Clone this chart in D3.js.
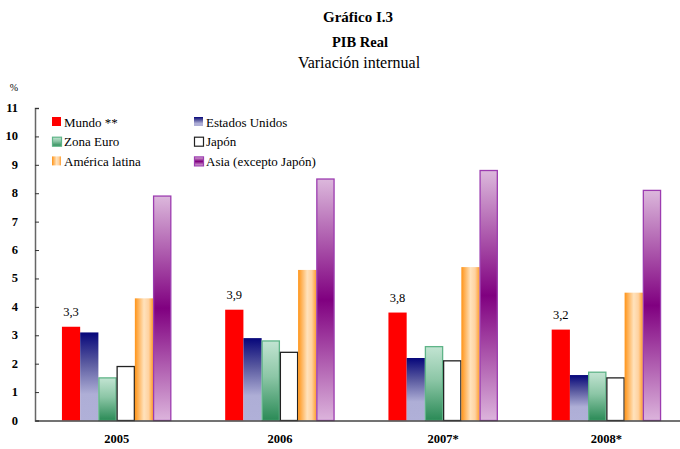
<!DOCTYPE html>
<html>
<head>
<meta charset="utf-8">
<script src="https://cdn.jsdelivr.net/npm/d3@7"></script>
<style>
    body { margin: 0; background: #fff; }
    svg { display: block; font-family: "Liberation Serif", "DejaVu Serif", serif; }
</style>
</head>
<body>
<svg id="chart" width="680" height="449"></svg>
<script>
const years = ['2005', '2006', '2007*', '2008*'];
const seriesNames = ['Mundo **', 'Estados Unidos', 'Zona Euro', 'Japón', 'América latina', 'Asia (excepto Japón)'];
const mundo = [3.3, 3.9, 3.8, 3.2];
const estadosUnidos = [3.1, 2.9, 2.2, 1.6];
const zonaEuro = [1.5, 2.8, 2.6, 1.7];
const japon = [1.9, 2.4, 2.1, 1.5];
const americaLatina = [4.3, 5.3, 5.4, 4.5];
const asia = [7.9, 8.5, 8.8, 8.1];
const mundoLabels = ['3,3', '3,9', '3,8', '3,2'];
const yTicks = d3.range(0, 12);

const seriesValues = [mundo, estadosUnidos, zonaEuro, japon, americaLatina, asia];

const svg = d3.select('#chart');
const defs = svg.append('defs');

// gradients
function linearGrad(id, horizontal, stops) {
    const g = defs.append('linearGradient')
        .attr('id', id)
        .attr('x1', 0).attr('y1', 0)
        .attr('x2', horizontal ? 1 : 0).attr('y2', horizontal ? 0 : 1);
    stops.forEach(s => g.append('stop').attr('offset', s[0]).attr('stop-color', s[1]));
}
linearGrad('gUS', false, [[0, '#06067a'], [0.35, '#5a5aa0'], [0.7, '#aeaed6'], [1, '#b0b0d8']]);
linearGrad('gEU', false, [[0, '#c2e4d2'], [0.45, '#8cc6a6'], [1, '#2a8a56']]);
linearGrad('gAL', true, [[0, '#ff9418'], [0.5, '#ffe2bc'], [0.75, '#ffd2a0'], [1, '#ff9e30']]);
linearGrad('gAS', false, [[0, '#dcb8dc'], [0.5, '#800080'], [1, '#dcb4dc']]);

const styles = [
    { fill: '#ff0000', stroke: 'none' },
    { fill: 'url(#gUS)', stroke: 'none' },
    { fill: 'url(#gEU)', stroke: '#5fb488' },
    { fill: '#ffffff', stroke: '#222' },
    { fill: 'url(#gAL)', stroke: 'none' },
    { fill: 'url(#gAS)', stroke: '#9c3cb0' }
];

const margin = { left: 35, top: 108, bottom: 420.5 };

const x = d3.scaleBand().domain(years).range([35, 688]).paddingInner(0.33).paddingOuter(0.165);
const xs = d3.scaleBand().domain(d3.range(6)).range([0, x.bandwidth()]);
const y = d3.scaleLinear().domain([0, 11]).range([margin.bottom, margin.top]);

// titles
svg.append('text').attr('x', 358).attr('y', 22).attr('text-anchor', 'middle')
    .style('font-weight', 'bold').style('font-size', '15px').text('Gráfico I.3');
svg.append('text').attr('x', 360).attr('y', 47).attr('text-anchor', 'middle')
    .style('font-weight', 'bold').style('font-size', '14.5px').text('PIB Real');
svg.append('text').attr('x', 359).attr('y', 68).attr('text-anchor', 'middle')
    .style('font-size', '16px').text('Variación internual');
svg.append('text').attr('x', 14).attr('y', 91).attr('text-anchor', 'middle')
    .style('font-size', '10px').text('%');

// bars
const groups = svg.append('g').selectAll('g')
    .data(years)
    .join('g')
    .attr('transform', d => `translate(${x(d)},0)`);

groups.selectAll('rect')
    .data((d, i) => seriesValues.map((s, k) => ({ k, v: s[i] })))
    .join('rect')
    .attr('x', d => xs(d.k) + (styles[d.k].stroke === 'none' ? 0 : 0.5))
    .attr('width', d => xs.bandwidth() - (styles[d.k].stroke === 'none' ? 0 : 1))
    .attr('y', d => y(d.v))
    .attr('height', d => y(0) - y(d.v))
    .attr('fill', d => styles[d.k].fill)
    .attr('stroke', d => styles[d.k].stroke)
    .attr('stroke-width', 1.3);

// value labels for Mundo
groups.append('text')
    .attr('x', xs(0) + xs.bandwidth() / 2)
    .attr('y', (d, i) => y(mundo[i]) - 11)
    .attr('text-anchor', 'middle')
    .style('font-size', '12.5px')
    .text((d, i) => mundoLabels[i]);

// y axis
const yAxis = svg.append('g')
    .attr('transform', `translate(${margin.left},0)`)
    .call(d3.axisRight(y).tickValues(yTicks).tickSize(4).tickFormat(''));
yAxis.select('.domain').attr('stroke', '#666').attr('stroke-width', 1.5);
yAxis.selectAll('.tick line').attr('stroke', '#333');
svg.append('g').selectAll('text')
    .data(yTicks)
    .join('text')
    .attr('x', 18)
    .attr('y', d => y(d) + 4)
    .attr('text-anchor', 'end')
    .style('font-weight', 'bold')
    .style('font-size', '12.5px')
    .text(d => d);

// x axis
const xAxis = svg.append('g')
    .attr('transform', `translate(0,${margin.bottom})`)
    .call(d3.axisBottom(x).tickSize(0).tickPadding(14));
xAxis.select('.domain').attr('stroke', '#444').attr('stroke-width', 1.5);
xAxis.selectAll('text')
    .style('font-family', '"Liberation Serif", serif')
    .style('font-weight', 'bold')
    .style('font-size', '12.5px')
    .attr('fill', '#000');

// legend
const legend = svg.append('g');
const items = legend.selectAll('g')
    .data(seriesNames)
    .join('g')
    .attr('transform', (d, i) => `translate(${i % 2 === 0 ? 52 : 194},${117 + Math.floor(i / 2) * 19.7})`);
items.append('rect')
    .attr('width', d => 9)
    .attr('height', 9)
    .attr('x', (d, i) => styles[i].stroke === 'none' ? 0 : 0.5)
    .attr('y', (d, i) => styles[i].stroke === 'none' ? 0 : 0.5)
    .attr('fill', (d, i) => styles[i].fill)
    .attr('stroke', (d, i) => styles[i].stroke)
    .attr('stroke-width', 1.2);
items.append('text')
    .attr('x', 12)
    .attr('y', 9.5)
    .style('font-size', '13px')
    .text(d => d);
</script>
</body>
</html>
